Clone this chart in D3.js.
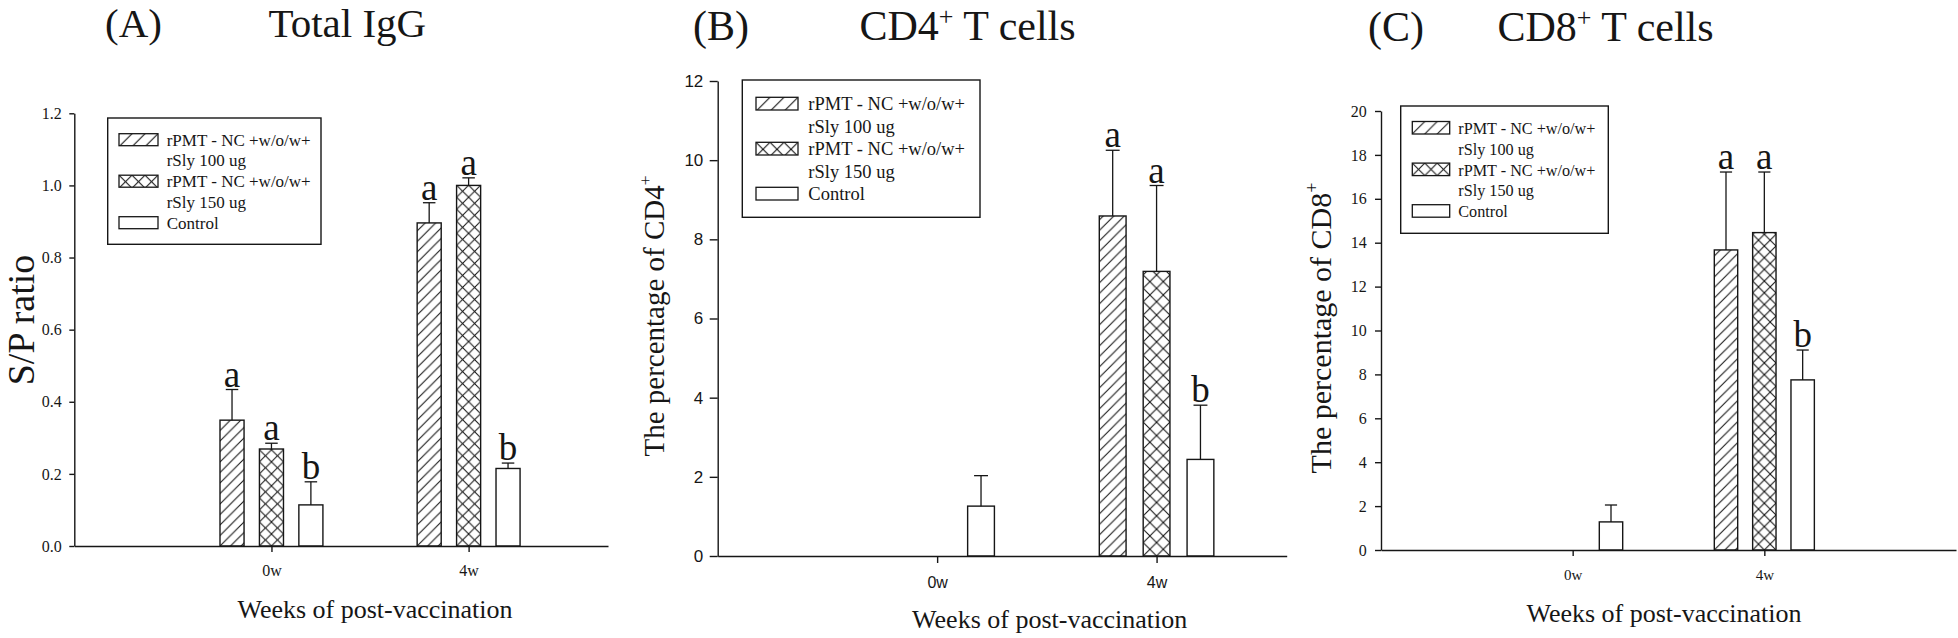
<!DOCTYPE html>
<html><head><meta charset="utf-8">
<script src="https://cdn.jsdelivr.net/npm/d3@7"></script>
<style>body{margin:0;background:#fff;} svg{display:block;}</style>
</head><body>
<svg id="chart" width="1958" height="638"></svg>
<script>
// ---------------- DATA ----------------
const categories = ["0w", "4w"];
const legendLabels = [["rPMT - NC +w/o/w+", "rSly 100 ug"], ["rPMT - NC +w/o/w+", "rSly 150 ug"], ["Control"]];

// (A) Total IgG, S/P ratio
const iggRsly100 = [0.349, 0.896];
const iggRsly100Err = [0.085, 0.056];
const iggRsly150 = [0.269, 1.000];
const iggRsly150Err = [0.016, 0.021];
const iggControl = [0.114, 0.215];
const iggControlErr = [0.064, 0.015];
const iggLetters = [["a", "a"], ["a", "a"], ["b", "b"]];
const iggTicks = [0, 0.2, 0.4, 0.6, 0.8, 1.0, 1.2];

// (B) CD4+ T cells, %
const cd4Rsly100 = [null, 8.59];
const cd4Rsly100Err = [null, 1.66];
const cd4Rsly150 = [null, 7.19];
const cd4Rsly150Err = [null, 2.17];
const cd4Control = [1.26, 2.44];
const cd4ControlErr = [0.77, 1.37];
const cd4Letters = [[null, "a"], [null, "a"], [null, "b"]];
const cd4Ticks = [0, 2, 4, 6, 8, 10, 12];

// (C) CD8+ T cells, %
const cd8Rsly100 = [null, 13.67];
const cd8Rsly100Err = [null, 3.55];
const cd8Rsly150 = [null, 14.46];
const cd8Rsly150Err = [null, 2.76];
const cd8Control = [1.28, 7.75];
const cd8ControlErr = [0.77, 1.36];
const cd8Letters = [[null, "a"], [null, "a"], [null, "b"]];
const cd8Ticks = [0, 2, 4, 6, 8, 10, 12, 14, 16, 18, 20];

// ---------------- LAYOUT ----------------
const SERIF = "'Liberation Serif','Times New Roman',serif";
const SANS = "'Liberation Sans',Arial,sans-serif";
const INK = "#161616";

const panels = [
  {
    tag: "(A)", title: ["Total IgG"], yTitle: ["S/P ratio"],
    series: [[iggRsly100, iggRsly100Err], [iggRsly150, iggRsly150Err], [iggControl, iggControlErr]],
    letters: iggLetters, ticks: iggTicks, yMax: 1.2, fmt: d3.format(".1f"),
    left: 74.3, right: 608, bottom: 546, top: 113.3, xMax: 1.707,
    yTick: 5, yPad: 7.6, yFont: 16, yFam: SERIF,
    xTick: 6, xPad: 12.6, xFont: 16, xFam: SERIF,
    xTitleX: 375, xTitleY: 618,
    yTitleX: 34, yTitleY: 320, yTitleFont: 38,
    tagX: 105, titleX: 268.5, titleY: 37, titleFont: 41,
    leg: {x: 107.7, y: 118, w: 213.3, h: 126.3, font: 17, base: 145.7, pitch: 20.75, sx: 119, sw: 39, sh: 12, tx: 166.7}
  },
  {
    tag: "(B)", title: ["CD4", "+", " T cells"], yTitle: ["The percentage of CD4", "+"],
    series: [[cd4Rsly100, cd4Rsly100Err], [cd4Rsly150, cd4Rsly150Err], [cd4Control, cd4ControlErr]],
    letters: cd4Letters, ticks: cd4Ticks, yMax: 12, fmt: d3.format("d"),
    left: 717.7, right: 1286.7, bottom: 556, top: 81, xMax: 1.593,
    yTick: 8, yPad: 6.4, yFont: 17, yFam: SANS,
    xTick: 7, xPad: 13.6, xFont: 16, xFam: SANS,
    xTitleX: 1049.7, xTitleY: 628.3,
    yTitleX: 664, yTitleY: 316, yTitleFont: 29,
    tagX: 693, titleX: 859.5, titleY: 39.5, titleFont: 42,
    leg: {x: 742.3, y: 80, w: 237.7, h: 137.3, font: 18.5, base: 110, pitch: 22.5, sx: 756, sw: 42, sh: 12.7, tx: 808.3}
  },
  {
    tag: "(C)", title: ["CD8", "+", " T cells"], yTitle: ["The percentage of CD8", "+"],
    series: [[cd8Rsly100, cd8Rsly100Err], [cd8Rsly150, cd8Rsly150Err], [cd8Control, cd8ControlErr]],
    letters: cd8Letters, ticks: cd8Ticks, yMax: 20, fmt: d3.format("d"),
    left: 1381, right: 1956, bottom: 550, top: 111, xMax: 2.0,
    yTick: 6, yPad: 8.3, yFont: 16, yFam: SERIF,
    xTick: 6, xPad: 13.4, xFont: 15, xFam: SERIF,
    xTitleX: 1664, xTitleY: 621.7,
    yTitleX: 1331, yTitleY: 328, yTitleFont: 30,
    tagX: 1368, titleX: 1497.5, titleY: 40.5, titleFont: 42,
    leg: {x: 1400.7, y: 106, w: 207.6, h: 127.3, font: 16.2, base: 134, pitch: 20.8, sx: 1412.3, sw: 37.4, sh: 12.5, tx: 1458.3}
  }
];

const svg = d3.select("#chart");
svg.append("rect").attr("width", 1958).attr("height", 638).attr("fill", "#fff");
const defs = svg.append("defs");
let patCount = 0;

function makePattern(kind, ox, oy, period) {
  const id = "pat" + (patCount++);
  const p = defs.append("pattern").attr("id", id)
    .attr("patternUnits", "userSpaceOnUse")
    .attr("x", ox).attr("y", oy).attr("width", period).attr("height", period);
  p.append("rect").attr("width", period).attr("height", period).attr("fill", "#fff");
  const P = period;
  p.append("path")
    .attr("d", `M${-P},${P} L${P},${-P} M0,${P} L${P},0 M0,${2 * P} L${2 * P},0`)
    .attr("stroke", INK).attr("stroke-width", 1.1).attr("fill", "none");
  if (kind === "cross") {
    p.append("path")
      .attr("d", `M${-P},0 L${P},${2 * P} M0,0 L${P},${P} M0,${-P} L${2 * P},${P}`)
      .attr("stroke", INK).attr("stroke-width", 1.1).attr("fill", "none");
  }
  return `url(#${id})`;
}

const kinds = ["hatch", "cross", "none"];
const offsets = [-0.2, 0, 0.2];

function drawPanel(p) {
  const g = svg.append("g");
  const x = d3.scaleLinear().domain([-1, p.xMax]).range([p.left, p.right]);
  const y = d3.scaleLinear().domain([0, p.yMax]).range([p.bottom, p.top]);
  const step = x(1) - x(0);
  const bw = 0.122 * step;

  // titles
  g.append("text").attr("x", p.tagX).attr("y", p.titleY)
    .attr("font-family", SERIF).attr("font-size", p.titleFont).attr("fill", INK).text(p.tag);
  const t = g.append("text").attr("x", p.titleX).attr("y", p.titleY)
    .attr("font-family", SERIF).attr("font-size", p.titleFont).attr("fill", INK);
  t.append("tspan").text(p.title[0]);
  if (p.title.length > 1) {
    t.append("tspan").attr("font-size", 26).attr("dy", -15).text(p.title[1]);
    t.append("tspan").attr("dy", 15).text(p.title[2]);
  }

  // bars
  p.series.forEach(([vals, errs], si) => {
    vals.forEach((v, ci) => {
      if (v == null) return;
      const cx = x(ci + offsets[si]);
      const x0 = cx - bw / 2;
      const fill = kinds[si] === "none" ? "#fff"
        : makePattern(kinds[si], x0, y(0), kinds[si] === "cross" ? bw / 2 : 10.5);
      g.append("rect").attr("x", x0).attr("y", y(v)).attr("width", bw).attr("height", y(0) - y(v))
        .attr("fill", fill).attr("stroke", INK).attr("stroke-width", 1.4);
      const e = errs[ci];
      const ey = y(v + e);
      g.append("line").attr("x1", cx).attr("x2", cx).attr("y1", y(v)).attr("y2", ey)
        .attr("stroke", INK).attr("stroke-width", 1.3);
      g.append("line").attr("x1", cx - bw * 0.26).attr("x2", cx + bw * 0.26).attr("y1", ey).attr("y2", ey)
        .attr("stroke", INK).attr("stroke-width", 1.3);
      const L = p.letters[si][ci];
      if (L) {
        g.append("text").attr("x", cx).attr("y", ey - 3).attr("text-anchor", "middle")
          .attr("font-family", SERIF).attr("font-size", 37).attr("fill", INK).text(L);
      }
    });
  });

  // y axis
  const ya = g.append("g").attr("transform", `translate(${p.left},0)`)
    .call(d3.axisLeft(y).tickValues(p.ticks).tickFormat(p.fmt).tickSize(p.yTick).tickSizeOuter(0).tickPadding(p.yPad));
  ya.selectAll("path,line").attr("stroke", INK).attr("stroke-width", 1.4);
  ya.selectAll("text").attr("font-family", p.yFam).attr("font-size", p.yFont).attr("fill", INK);

  // x axis
  const xa = g.append("g").attr("transform", `translate(0,${p.bottom})`)
    .call(d3.axisBottom(x).tickValues([0, 1]).tickFormat(i => categories[i]).tickSize(p.xTick).tickSizeOuter(0).tickPadding(p.xPad));
  xa.selectAll("path,line").attr("stroke", INK).attr("stroke-width", 1.4);
  xa.selectAll("text").attr("font-family", p.xFam).attr("font-size", p.xFont).attr("fill", INK);

  // axis titles
  g.append("text").attr("x", p.xTitleX).attr("y", p.xTitleY).attr("text-anchor", "middle")
    .attr("font-family", SERIF).attr("font-size", 26).attr("fill", INK).text("Weeks of post-vaccination");
  const yt = g.append("text").attr("transform", `translate(${p.yTitleX},${p.yTitleY}) rotate(-90)`)
    .attr("text-anchor", "middle").attr("font-family", SERIF).attr("font-size", p.yTitleFont).attr("fill", INK);
  yt.append("tspan").text(p.yTitle[0]);
  if (p.yTitle.length > 1) {
    yt.append("tspan").attr("font-size", p.yTitleFont * 0.6).attr("dy", -p.yTitleFont * 0.45).text(p.yTitle[1]);
  }

  // legend
  const lg = p.leg;
  g.append("rect").attr("x", lg.x).attr("y", lg.y).attr("width", lg.w).attr("height", lg.h)
    .attr("fill", "#fff").attr("stroke", INK).attr("stroke-width", 1.4);
  let row = 0;
  legendLabels.forEach((lines, si) => {
    const base = lg.base + row * lg.pitch;
    const sy = base - lg.sh;
    const fill = kinds[si] === "none" ? "#fff" : makePattern(kinds[si], lg.sx, sy, lg.sw / 3);
    g.append("rect").attr("x", lg.sx).attr("y", sy).attr("width", lg.sw).attr("height", lg.sh)
      .attr("fill", fill).attr("stroke", INK).attr("stroke-width", 1.3);
    lines.forEach((ln, li) => {
      g.append("text").attr("x", lg.tx).attr("y", base + li * lg.pitch)
        .attr("font-family", SERIF).attr("font-size", lg.font).attr("fill", INK).text(ln);
    });
    row += lines.length;
  });
}

panels.forEach(drawPanel);
</script>
</body></html>
